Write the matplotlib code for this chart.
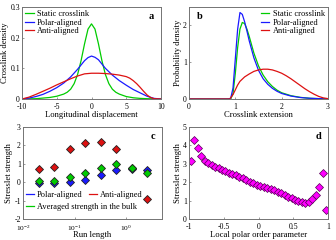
import matplotlib
matplotlib.use("Agg")
import matplotlib.pyplot as plt
from matplotlib.lines import Line2D

plt.rcParams['font.family'] = ['Liberation Serif', 'DejaVu Serif']
plt.rcParams['mathtext.fontset'] = 'stix'
plt.rcParams['axes.unicode_minus'] = False

GREEN = '#00cc00'
BLUE = '#1a1aff'
RED = '#dd1111'
MAG = '#ff00ff'

# Panel a: longitudinal displacement densities
a_x_green = [-10, -8, -7, -6, -5, -4, -3.5, -3, -2.5, -2, -1.5, -1, -0.5, 0,
             0.5, 1, 1.5, 2, 2.5, 3, 3.5, 4, 5, 6, 7, 8, 10]
a_y_green = [0, 0.001, 0.003, 0.005, 0.009, 0.016, 0.022, 0.032, 0.05, 0.08, 0.125, 0.18, 0.228, 0.245,
             0.228, 0.18, 0.125, 0.08, 0.05, 0.032, 0.022, 0.016, 0.008, 0.004, 0.002, 0.001, 0]
a_x_blue = [-10, -9, -8, -7, -6, -5, -4, -3, -2, -1, -0.5, 0, 0.5, 1, 2, 3, 4, 5, 6, 7, 8, 9, 10]
a_y_blue = [0, 0.003, 0.008, 0.015, 0.025, 0.037, 0.052, 0.072, 0.097, 0.125, 0.135, 0.14,
            0.136, 0.128, 0.1, 0.078, 0.06, 0.045, 0.031, 0.02, 0.009, 0.002, 0]
a_x_red = [-10, -9, -8, -7, -6, -5, -4, -3, -2, -1, 0, 1, 2, 3, 4, 5, 5.5, 6, 6.5, 7, 7.5, 8, 8.5, 9, 10]
a_y_red = [0, 0.006, 0.015, 0.025, 0.035, 0.046, 0.056, 0.066, 0.075, 0.082, 0.084, 0.084, 0.083,
           0.081, 0.078, 0.073, 0.068, 0.06, 0.05, 0.038, 0.025, 0.013, 0.005, 0.001, 0]

# Panel b: crosslink extension densities
b_x_green = [0, 0.9, 0.95, 1.0, 1.05, 1.1, 1.15, 1.2, 1.25, 1.3, 1.4, 1.5, 1.6, 1.7, 1.8, 1.9, 2.0,
             2.2, 2.4, 2.6, 2.8, 3.0]
b_y_green = [0, 0, 0.15, 0.7, 1.4, 1.9, 2.08, 2.05, 1.9, 1.7, 1.25, 0.9, 0.65, 0.47, 0.34, 0.24, 0.17,
             0.09, 0.045, 0.02, 0.01, 0]
b_x_blue = [0, 0.85, 0.9, 0.95, 1.0, 1.05, 1.1, 1.15, 1.2, 1.25, 1.3, 1.4, 1.5, 1.6, 1.7, 1.8, 1.9,
            2.0, 2.2, 2.4, 2.6, 2.8, 3.0]
b_y_blue = [0, 0, 0.02, 0.3, 1.1, 1.9, 2.35, 2.3, 2.1, 1.85, 1.58, 1.12, 0.78, 0.55, 0.4, 0.29, 0.21,
            0.15, 0.08, 0.04, 0.02, 0.01, 0]
b_x_red = [0, 0.88, 0.95, 1.0, 1.05, 1.1, 1.2, 1.3, 1.4, 1.5, 1.6, 1.7, 1.8, 1.9, 2.0, 2.1, 2.2,
           2.3, 2.4, 2.5, 2.6, 2.7, 2.8, 2.9, 3.0]
b_y_red = [0, 0, 0.12, 0.25, 0.38, 0.48, 0.6, 0.68, 0.75, 0.79, 0.81, 0.81, 0.79, 0.75, 0.7, 0.63,
           0.55, 0.46, 0.37, 0.28, 0.2, 0.13, 0.07, 0.03, 0.01]

# Panel c: stresslet strength vs run length
c_run = [0.02, 0.04, 0.08, 0.16, 0.32, 0.64, 1.28, 2.56]
c_polar = [-0.04, -0.03, 0.0, 0.14, 0.37, 0.66, 0.72, 0.68]
c_anti = [0.7, 0.8, 1.78, 2.13, 2.2, 1.78, 0.78, -0.9]
c_bulk = [0.06, 0.09, 0.29, 0.49, 0.79, 0.97, 0.76, 0.5]

# Panel d: stresslet strength vs local polar order
d_order = [-0.975, -0.925, -0.875, -0.825, -0.775, -0.725, -0.675, -0.625, -0.575, -0.525,
           -0.475, -0.425, -0.375, -0.325, -0.275, -0.225, -0.175, -0.125, -0.075, -0.025,
           0.025, 0.075, 0.125, 0.175, 0.225, 0.275, 0.325, 0.375, 0.425, 0.475,
           0.525, 0.575, 0.625, 0.675, 0.725, 0.775, 0.825, 0.875, 0.925, 0.975]
d_strength = [3.15, 4.3, 3.85, 3.4, 3.15, 3.05, 2.95, 2.85, 2.75, 2.65,
              2.6, 2.52, 2.45, 2.38, 2.3, 2.22, 2.12, 2.03, 1.95, 1.85,
              1.82, 1.76, 1.7, 1.62, 1.55, 1.48, 1.4, 1.3, 1.18, 1.12,
              1.05, 1.0, 0.93, 0.87, 0.9, 1.1, 1.3, 1.75, 2.5, 0.48]

W, H = 336, 240
fig = plt.figure(figsize=(W / 100, H / 100), dpi=100)

def pos(l, t, r, b):
    return [l / W, 1 - b / H, (r - l) / W, (b - t) / H]

ax_a = fig.add_axes(pos(22, 7, 161, 99))
ax_b = fig.add_axes(pos(189, 7, 328, 99))
ax_c = fig.add_axes(pos(23, 127, 162, 219))
ax_d = fig.add_axes(pos(189, 127, 328, 219))

FS = 6.2
TFS = 5.6
for ax in (ax_a, ax_b, ax_c, ax_d):
    for s in ax.spines.values():
        s.set_color('0.45')
        s.set_linewidth(0.7)
    ax.tick_params(direction='in', length=1.5, width=0.5, color='0.45', labelsize=TFS, pad=1.5)
    ax.tick_params(axis='x', pad=3.0)
    ax.tick_params(which='minor', length=0)

lw = 0.9
# Panel a
ax_a.plot(a_x_green, a_y_green, color=GREEN, lw=lw, label='Static crosslink')
ax_a.plot(a_x_blue, a_y_blue, color=BLUE, lw=lw, label='Polar-aligned')
ax_a.plot(a_x_red, a_y_red, color=RED, lw=lw, label='Anti-aligned')
ax_a.set_xlim(-10, 10)
ax_a.set_ylim(0, 0.3)
ax_a.set_xticks([-10, -5, 0, 5, 10])
ax_a.set_yticks([0, 0.1, 0.2, 0.3])
ax_a.set_yticklabels(['0', '0.1', '0.2', '0.3'])
ax_a.set_xlabel('Longitudinal displacement', fontsize=FS, labelpad=0.0)
ax_a.set_ylabel('Crosslink density', fontsize=FS, labelpad=1)
ax_a.legend(loc='upper left', fontsize=FS - 0.2, frameon=False, handlelength=1.0,
            handletextpad=0.4, labelspacing=0.05, borderaxespad=0.2, borderpad=0.2)
ax_a.text(0.95, 0.9, 'a', transform=ax_a.transAxes, fontsize=7.5, fontweight='bold',
          ha='right', va='center')

# Panel b
ax_b.plot(b_x_green, b_y_green, color=GREEN, lw=lw, label='Static crosslink')
ax_b.plot(b_x_blue, b_y_blue, color=BLUE, lw=lw, label='Polar-aligned')
ax_b.plot(b_x_red, b_y_red, color=RED, lw=lw, label='Anti-aligned')
ax_b.set_xlim(0, 3)
ax_b.set_ylim(0, 2.5)
ax_b.set_xticks([0, 1, 2, 3])
ax_b.set_yticks([0, 1, 2])
ax_b.set_xlabel('Crosslink extension', fontsize=FS, labelpad=0.0)
ax_b.set_ylabel('Probability density', fontsize=FS, labelpad=1)
ax_b.legend(loc='upper right', fontsize=FS - 0.2, frameon=False, handlelength=1.0,
            handletextpad=0.4, labelspacing=0.05, borderaxespad=0.2, borderpad=0.2)
ax_b.text(0.06, 0.9, 'b', transform=ax_b.transAxes, fontsize=7.5, fontweight='bold',
          ha='left', va='center')

# Panel c
ms = 4.0
ax_c.plot(c_run, c_anti, 'D', color=RED, mec='#222222', mew=0.6, ms=ms, ls='none')
ax_c.plot(c_run, c_polar, 'D', color=BLUE, mec='#222222', mew=0.6, ms=ms, ls='none')
ax_c.plot(c_run, c_bulk, 'D', color=GREEN, mec='#222222', mew=0.6, ms=ms, ls='none')
ax_c.set_xscale('log')
ax_c.set_xlim(0.01, 4.9)
ax_c.set_ylim(-2, 3)
ax_c.set_xticks([0.01, 0.1, 1])
ax_c.set_yticks([-2, -1, 0, 1, 2, 3])
ax_c.minorticks_off()
ax_c.tick_params(axis='x', pad=3.2, labelsize=5.3)
ax_c.set_xlabel('Run length', fontsize=FS, labelpad=-1.0)
ax_c.set_ylabel('Stresslet strength', fontsize=FS, labelpad=1)
h_blue = Line2D([], [], color=BLUE, lw=lw)
h_red = Line2D([], [], color=RED, lw=lw)
h_green = Line2D([], [], color=GREEN, lw=lw)
leg1 = ax_c.legend([h_blue, h_red], ['Polar-aligned', 'Anti-aligned'], ncol=2,
                   loc='center left', bbox_to_anchor=(0.02, 0.26), fontsize=FS - 0.2,
                   frameon=False, handlelength=1.0, handletextpad=0.3, columnspacing=0.8,
                   borderaxespad=0.0, borderpad=0.0)
ax_c.add_artist(leg1)
ax_c.legend([h_green], ['Averaged strength in the bulk'], loc='center left',
            bbox_to_anchor=(0.02, 0.135), fontsize=FS - 0.2, frameon=False,
            handlelength=1.0, handletextpad=0.3, borderaxespad=0.0, borderpad=0.0)
ax_c.text(0.95, 0.9, 'c', transform=ax_c.transAxes, fontsize=7.5, fontweight='bold',
          ha='right', va='center')

# Panel d
ax_d.plot(d_order, d_strength, 'D', color=MAG, mec='#550055', mew=0.5, ms=3.9, ls='none')
ax_d.set_xlim(-1, 1)
ax_d.set_ylim(0, 5)
ax_d.set_xticks([-1, -0.5, 0, 0.5, 1])
ax_d.set_xticklabels(['-1', '-0.5', '0', '0.5', '1'])
ax_d.set_yticks([0, 1, 2, 3, 4, 5])
ax_d.set_xlabel('Local polar order parameter', fontsize=FS, labelpad=0.0)
ax_d.set_ylabel('Stresslet strength', fontsize=FS, labelpad=1)
ax_d.text(0.95, 0.9, 'd', transform=ax_d.transAxes, fontsize=7.5, fontweight='bold',
          ha='right', va='center')

fig.savefig('out.png', dpi=100)
